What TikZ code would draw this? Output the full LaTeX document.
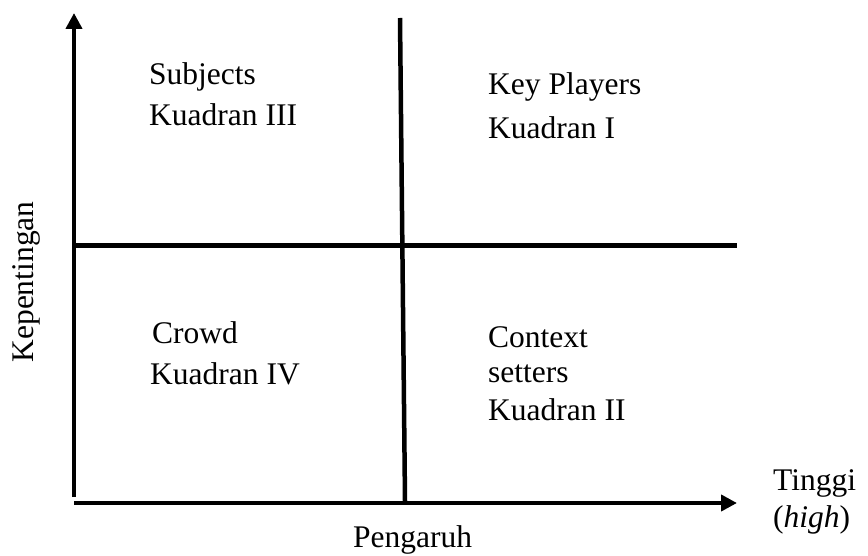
\documentclass[tikz,border=0pt]{standalone}
\usepackage{fontspec}
\setmainfont{Liberation Serif}
\usepackage{xcolor}
\usetikzlibrary{arrows.meta,positioning}

\tikzset{
    axis/.style={line width=4.5pt, -{Triangle[length=16pt,width=16pt]}},
    divider/.style={line width=4.5pt},
    lbl/.style={anchor=base west, inner sep=0pt, font=\fontsize{31.5pt}{36pt}\selectfont}
}

\begin{document}
\begin{tikzpicture}[x=1pt, y=-1pt]
    \useasboundingbox (0,0) rectangle (868,556);

    % axes
    \coordinate (ytop) at (74,13);
    \coordinate (ybot) at (74,497);
    \coordinate (xleft) at (74,503);
    \coordinate (xright) at (737,503);
    \draw[axis] (ybot) -- (ytop);
    \draw[axis] (xleft) -- (xright);

    % quadrant dividers
    \coordinate (vtop) at (400,18);
    \coordinate (vbot) at (405,501);
    \coordinate (hleft) at (75,245.5);
    \coordinate (hright) at (737,245.5);
    \draw[divider] (vtop) -- (vbot);
    \draw[divider] (hleft) -- (hright);

    % Kuadran III
    \node[lbl] (subj) at (149,85) {Subjects};
    \node[lbl] (q3) at (149,126) {Kuadran III};

    % Kuadran I
    \node[lbl] (key) at (488,95) {Key Players};
    \node[lbl] (q1) at (488,139) {Kuadran I};

    % Kuadran IV
    \node[lbl] (crowd) at (152,343) {Crowd};
    \node[lbl] (q4) at (150,384) {Kuadran IV};

    % Kuadran II
    \node[lbl] (ctx) at (488,347) {Context};
    \node[lbl] (set) at (488,382) {setters};
    \node[lbl] (q2) at (488,420) {Kuadran II};

    % axis labels
    \node[lbl] (high) at (773,490) {Tinggi};
    \node[lbl] (highen) at (773,527) {(\textit{high})};
    \node[lbl] (xlab) at (353,547) {Pengaruh};
    \node[lbl, anchor=base, rotate=90] (ylab) at (33,282) {Kepentingan};
\end{tikzpicture}
\end{document}
